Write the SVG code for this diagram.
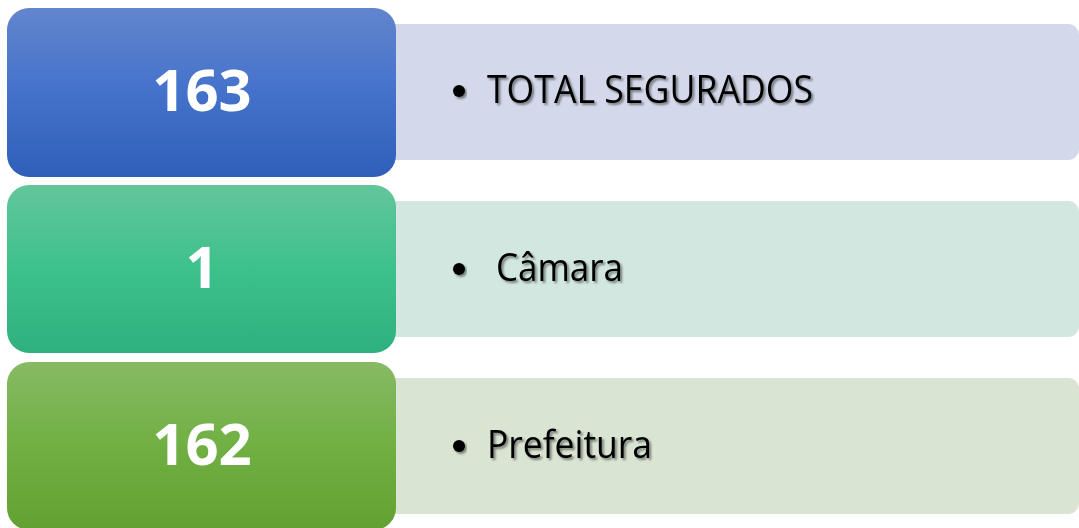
<svg xmlns="http://www.w3.org/2000/svg" width="1079" height="528" viewBox="0 0 1079 528">
  <style>
    .num { font-family: "Open Sans", "Liberation Sans", sans-serif; font-weight: 700; font-size: 58px; fill: #ffffff; text-anchor: middle; }
    .lbl { font-family: "Open Sans", "Noto Sans", "Liberation Sans", sans-serif; font-size: 38px; fill: #000000; filter: url(#shadow); }
    .dot { fill: #000000; filter: url(#shadow); }
  </style>
  <defs>
    <linearGradient id="gBlue" x1="0" y1="0" x2="0" y2="1">
      <stop offset="0" stop-color="#6285cd"/>
      <stop offset="0.5" stop-color="#4472cb"/>
      <stop offset="1" stop-color="#2f5fb8"/>
    </linearGradient>
    <linearGradient id="gTeal" x1="0" y1="0" x2="0" y2="1">
      <stop offset="0" stop-color="#62c69a"/>
      <stop offset="0.5" stop-color="#3dc18b"/>
      <stop offset="1" stop-color="#2fb07e"/>
    </linearGradient>
    <linearGradient id="gGreen" x1="0" y1="0" x2="0" y2="1">
      <stop offset="0" stop-color="#87ba64"/>
      <stop offset="0.5" stop-color="#70b043"/>
      <stop offset="1" stop-color="#62a131"/>
    </linearGradient>
    <filter id="shadow" x="-10%" y="-30%" width="120%" height="160%">
      <feDropShadow dx="2" dy="2" stdDeviation="1.2" flood-color="#000000" flood-opacity="0.45"/>
    </filter>
  </defs>

  <g id="node-total">
    <rect x="380" y="24" width="699" height="136" rx="11" fill="#d3d9ea"/>
    <rect x="7" y="8" width="389" height="169" rx="22" fill="url(#gBlue)"/>
    <text class="num" x="202" y="111">163</text>
    <circle class="dot" cx="459" cy="91" r="6"/>
    <text class="lbl" x="487" y="103" textLength="326" lengthAdjust="spacingAndGlyphs">TOTAL SEGURADOS</text>
  </g>

  <g id="node-camara">
    <rect x="380" y="201" width="699" height="136" rx="11" fill="#d3e7e1"/>
    <rect x="7" y="185" width="389" height="168" rx="22" fill="url(#gTeal)"/>
    <text class="num" x="202" y="288">1</text>
    <circle class="dot" cx="459" cy="269" r="6"/>
    <text class="lbl" x="496" y="281" textLength="127" lengthAdjust="spacingAndGlyphs">Câmara</text>
  </g>

  <g id="node-prefeitura">
    <rect x="380" y="378" width="699" height="136" rx="11" fill="#d9e4d3"/>
    <rect x="7" y="362" width="389" height="168" rx="22" fill="url(#gGreen)"/>
    <text class="num" x="202" y="465">162</text>
    <circle class="dot" cx="459" cy="446" r="6"/>
    <text class="lbl" x="487" y="458" textLength="165" lengthAdjust="spacingAndGlyphs">Prefeitura</text>
  </g>

  <g id="connectors"></g>
</svg>
